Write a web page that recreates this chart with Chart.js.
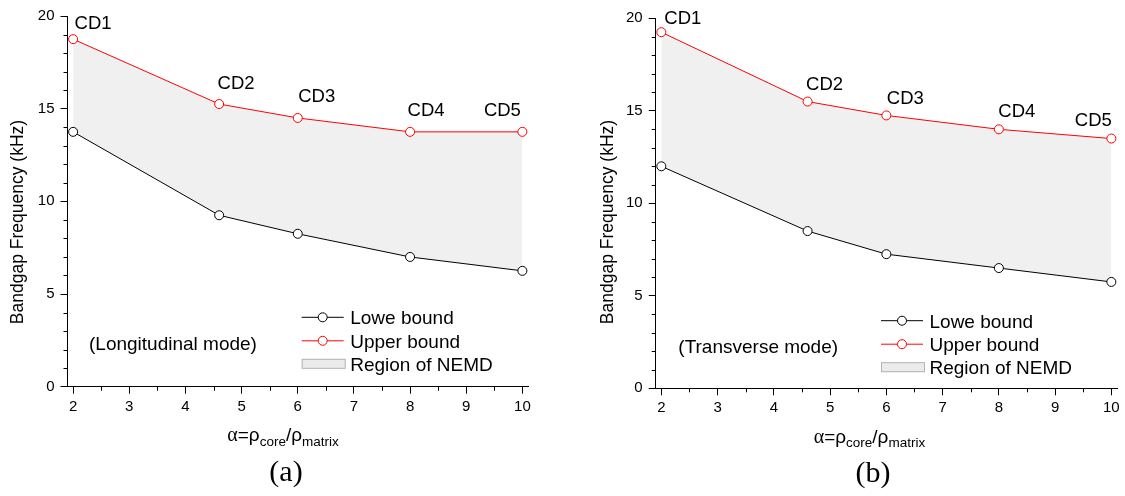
<!DOCTYPE html>
<html>
<head>
<meta charset="utf-8">
<script src="https://cdn.jsdelivr.net/npm/chart.js@4.4.0/dist/chart.umd.min.js"></script>
<style>
  html, body { margin: 0; padding: 0; background: #fff; }
  #wrap { position: relative; width: 1125px; height: 496px; overflow: hidden; }
  .panel { position: absolute; top: 0; height: 496px; }
</style>
</head>
<body>
<div id="wrap">
  <div class="panel" style="left:0;width:562px"><canvas id="chartA" width="562" height="496"></canvas></div>
  <div class="panel" style="left:562px;width:563px"><canvas id="chartB" width="563" height="496"></canvas></div>
</div>
<script>
// density ratio alpha for the five core designs
const alphaValues = [2, 4.6, 6, 8, 10];
const designNames = ['CD1', 'CD2', 'CD3', 'CD4', 'CD5'];

// bandgap edges (kHz)
const lowerLongitudinal = [13.75, 9.25, 8.25, 7.0, 6.25];
const upperLongitudinal = [18.75, 15.25, 14.5, 13.75, 13.75];
const lowerTransverse = [12.0, 8.5, 7.25, 6.5, 5.75];
const upperTransverse = [19.25, 15.5, 14.75, 14.0, 13.5];

const xTickValues = [2, 3, 4, 5, 6, 7, 8, 9, 10];
const yTickValues = [0, 5, 10, 15, 20];
const seriesNames = ['Lowe bound', 'Upper bound', 'Region of NEMD'];

const SANS = "'Liberation Sans', Arial, sans-serif";
const SERIF = "'Liberation Serif', 'Times New Roman', serif";
const RED = '#ff0000';
const BAND = '#f0f0f0';

const panels = [
    {
        id: 'chartA', lower: lowerLongitudinal, upper: upperLongitudinal,
        mode: '(Longitudinal mode)', caption: '(a)',
        axisW: 67.5, axisH: 109.3, padTop: 16, padRight: 34,
        yTitleX: 18, modeX: 89, modeY: 350, legendX: 301.7, legendY: 317.3,
        xTitleX: 283, xTitleY: 441, captionX: 286, captionY: 481,
        nameOffsets: [[20, -10], [17, -15.5], [19, -15.5], [16, -15.5], [-20, -15.5]]
    },
    {
        id: 'chartB', lower: lowerTransverse, upper: upperTransverse,
        mode: '(Transverse mode)', caption: '(b)',
        axisW: 93.7, axisH: 107.7, padTop: 18.3, padRight: 8,
        yTitleX: 46, modeX: 116.3, modeY: 352.5, legendX: 319, legendY: 320.7,
        xTitleX: 307.4, xTitleY: 442.5, captionX: 311, captionY: 482,
        nameOffsets: [[21.5, -8], [17, -11.7], [19, -11], [18, -12.8], [-18, -12.3]]
    }
];

// draws minor ticks, point names, legend, titles and captions
const decorPlugin = {
    id: 'decor',
    afterDraw(chart, args, opts) {
        const p = opts.panel;
        const ctx = chart.ctx;
        const xs = chart.scales.x;
        const ys = chart.scales.y;
        ctx.save();

        // minor ticks
        ctx.strokeStyle = '#000';
        ctx.lineWidth = 1;
        ctx.beginPath();
        for (let v = 2.5; v < 10; v += 1) {
            const px = Math.round(xs.getPixelForValue(v)) + 0.5;
            ctx.moveTo(px, ys.bottom);
            ctx.lineTo(px, ys.bottom + 4);
        }
        for (let v = 1; v < 20; v++) {
            if (v % 5 === 0) continue;
            const py = Math.round(ys.getPixelForValue(v)) + 0.5;
            ctx.moveTo(xs.left, py);
            ctx.lineTo(xs.left - 4, py);
        }
        ctx.stroke();

        // design names above the upper bound
        ctx.fillStyle = '#000';
        ctx.font = '18.5px ' + SANS;
        ctx.textAlign = 'center';
        ctx.textBaseline = 'alphabetic';
        chart.getDatasetMeta(1).data.forEach((pt, i) => {
            const off = p.nameOffsets[i];
            ctx.fillText(designNames[i], pt.x + off[0], pt.y + off[1]);
        });

        // mode annotation
        ctx.textAlign = 'left';
        ctx.font = '19px ' + SANS;
        ctx.fillText(p.mode, p.modeX, p.modeY);

        // legend
        const lx = p.legendX, ly = p.legendY;
        const rows = [ly, ly + 23.5, ly + 46.5];
        const ds = chart.data.datasets;
        for (let i = 0; i < 2; i++) {
            ctx.strokeStyle = ds[i].borderColor;
            ctx.beginPath();
            ctx.moveTo(lx, rows[i]);
            ctx.lineTo(lx + 42, rows[i]);
            ctx.stroke();
            ctx.beginPath();
            ctx.arc(lx + 21, rows[i], 4.5, 0, Math.PI * 2);
            ctx.fillStyle = '#fff';
            ctx.fill();
            ctx.stroke();
        }
        ctx.fillStyle = '#ebebeb';
        ctx.strokeStyle = '#b4b4b4';
        ctx.fillRect(lx, rows[2] - 5, 44, 10);
        ctx.strokeRect(lx + 0.5, rows[2] - 4.5, 43, 9);
        ctx.fillStyle = '#000';
        ctx.font = '19px ' + SANS;
        for (let i = 0; i < 3; i++) {
            ctx.fillText(seriesNames[i], lx + 48.5, rows[i] + 6.8);
        }

        // y axis title
        ctx.save();
        ctx.translate(p.yTitleX, 222);
        ctx.rotate(-Math.PI / 2);
        ctx.textAlign = 'center';
        ctx.textBaseline = 'middle';
        ctx.font = '17.5px ' + SANS;
        ctx.fillText('Bandgap Frequency (kHz)', 0, 0);
        ctx.restore();

        // x axis title with subscripts
        const parts = [
            { t: 'α', f: '20px ' + SERIF, dy: 0 },
            { t: '=ρ', f: '19px ' + SANS, dy: 0 },
            { t: 'core', f: '13.5px ' + SANS, dy: 4.5 },
            { t: '/ρ', f: '19px ' + SANS, dy: 0 },
            { t: 'matrix', f: '13.5px ' + SANS, dy: 4.5 }
        ];
        let total = 0;
        parts.forEach(pt => { ctx.font = pt.f; pt.w = ctx.measureText(pt.t).width; total += pt.w; });
        let cx = p.xTitleX - total / 2;
        ctx.textAlign = 'left';
        parts.forEach(pt => {
            ctx.font = pt.f;
            ctx.fillText(pt.t, cx, p.xTitleY + pt.dy);
            cx += pt.w;
        });

        // panel caption
        ctx.textAlign = 'center';
        ctx.font = '30px ' + SERIF;
        ctx.fillText(p.caption, p.captionX, p.captionY);

        ctx.restore();
    }
};

function buildChart(p) {
    const toPoints = arr => alphaValues.map((x, i) => ({ x: x, y: arr[i] }));
    const axisGrid = { display: true, drawOnChartArea: false, drawTicks: true, tickLength: 7, color: '#000', tickWidth: 1 };

    new Chart(document.getElementById(p.id), {
        type: 'line',
        data: {
            datasets: [
                {
                    label: seriesNames[0],
                    data: toPoints(p.lower),
                    borderColor: '#000',
                    borderWidth: 1,
                    pointRadius: 4.5,
                    pointBorderWidth: 1,
                    pointBorderColor: '#000',
                    pointBackgroundColor: '#fff',
                    fill: false,
                    tension: 0
                },
                {
                    label: seriesNames[1],
                    data: toPoints(p.upper),
                    borderColor: RED,
                    borderWidth: 1,
                    pointRadius: 4.5,
                    pointBorderWidth: 1,
                    pointBorderColor: RED,
                    pointBackgroundColor: '#fff',
                    backgroundColor: BAND,
                    fill: { target: 0 },
                    tension: 0
                }
            ]
        },
        options: {
            responsive: false,
            animation: false,
            devicePixelRatio: 1,
            layout: { padding: { top: p.padTop, right: p.padRight, left: 0, bottom: 0 } },
            plugins: {
                legend: { display: false },
                tooltip: { enabled: false },
                decor: { panel: p }
            },
            scales: {
                x: {
                    type: 'linear',
                    min: 1.9,
                    max: 10.1,
                    afterBuildTicks: s => { s.ticks = xTickValues.map(v => ({ value: v })); },
                    afterFit: s => { s.height = p.axisH; },
                    grid: axisGrid,
                    border: { display: true, color: '#000', width: 1 },
                    ticks: { color: '#000', font: { family: SANS, size: 15 }, padding: 4, maxRotation: 0, autoSkip: false }
                },
                y: {
                    type: 'linear',
                    min: 0,
                    max: 20,
                    afterBuildTicks: s => { s.ticks = yTickValues.map(v => ({ value: v })); },
                    afterFit: s => { s.width = p.axisW; },
                    grid: axisGrid,
                    border: { display: true, color: '#000', width: 1 },
                    ticks: { color: '#000', font: { family: SANS, size: 15 }, padding: 6 }
                }
            }
        },
        plugins: [decorPlugin]
    });
}

panels.forEach(buildChart);
</script>
</body>
</html>
